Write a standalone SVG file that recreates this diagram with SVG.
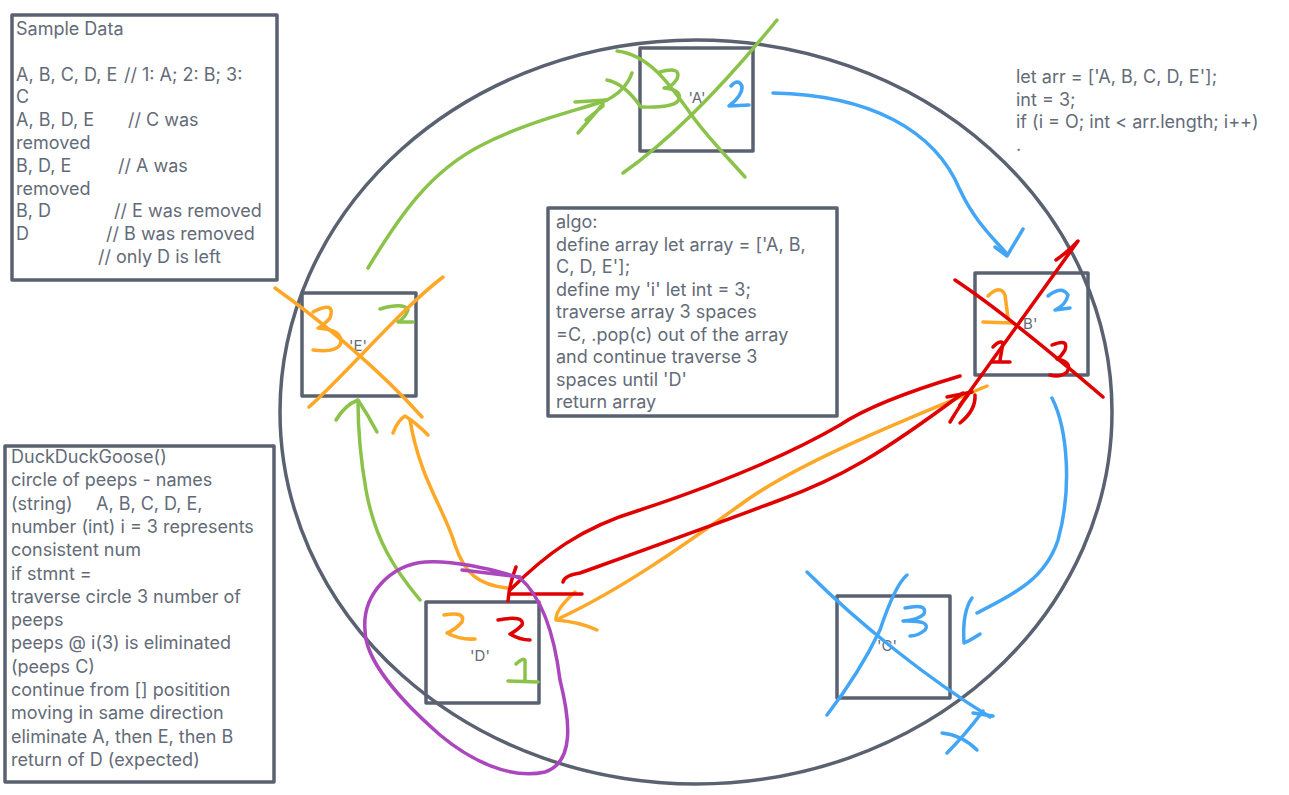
<svg xmlns="http://www.w3.org/2000/svg" width="1289" height="795" viewBox="0 0 1289 795">
<style>
.frame{fill:none;stroke:#5a6272;stroke-width:3.5;stroke-linejoin:round}
.txt{font-family:Inter,"Open Sans","Liberation Sans",sans-serif;font-size:18px;fill:#646b78}
.lbl{font-family:Inter,"Open Sans","Liberation Sans",sans-serif;font-size:15px;fill:#646b78;text-anchor:middle}
.ink{fill:none;stroke-width:3.5;stroke-linecap:round;stroke-linejoin:round}
.g{stroke:#8bc34a}.b{stroke:#42a5f5}.o{stroke:#ffa726}.r{stroke:#e00000}.p{stroke:#ab47bc}
</style>
<rect width="1289" height="795" fill="#ffffff"/>

<ellipse class="frame" cx="696" cy="412" rx="416" ry="372"/>

<g id="sample-data">
<rect class="frame" x="12" y="15" width="265" height="265"/>
<text class="txt">
<tspan x="16" y="35">Sample Data</tspan>
<tspan x="16" y="80.6">A, B, C, D, E</tspan><tspan x="124" y="80.6">// 1: A; 2: B; 3:</tspan>
<tspan x="16" y="103.4">C</tspan>
<tspan x="16" y="126.2">A, B, D, E</tspan><tspan x="128" y="126.2">// C was</tspan>
<tspan x="16" y="149">removed</tspan>
<tspan x="16" y="171.8">B, D, E</tspan><tspan x="118" y="171.8">// A was</tspan>
<tspan x="16" y="194.6">removed</tspan>
<tspan x="16" y="217.4">B, D</tspan><tspan x="114" y="217.4">// E was removed</tspan>
<tspan x="16" y="240.2">D</tspan><tspan x="106" y="240.2">// B was removed</tspan>
<tspan x="98" y="263">// only D is left</tspan>
</text>
</g>

<g id="description">
<rect class="frame" x="5" y="446" width="269" height="336"/>
<text class="txt">
<tspan x="11" y="463">DuckDuckGoose()</tspan>
<tspan x="11" y="486.3">circle of peeps - names</tspan>
<tspan x="11" y="509.6">(string)</tspan><tspan x="96" y="509.6">A, B, C, D, E,</tspan>
<tspan x="11" y="532.9">number (int) i = 3 represents</tspan>
<tspan x="11" y="556.2">consistent num</tspan>
<tspan x="11" y="579.5">if stmnt =</tspan>
<tspan x="11" y="602.8">traverse circle 3 number of</tspan>
<tspan x="11" y="626.1">peeps</tspan>
<tspan x="11" y="649.4">peeps @ i(3) is eliminated</tspan>
<tspan x="11" y="672.7">(peeps C)</tspan>
<tspan x="11" y="696">continue from [] positition</tspan>
<tspan x="11" y="719.3">moving in same direction</tspan>
<tspan x="11" y="742.6">eliminate A, then E, then B</tspan>
<tspan x="11" y="765.9">return of D (expected)</tspan>
</text>
</g>

<g id="algo">
<rect class="frame" x="548" y="208" width="289" height="208"/>
<text class="txt">
<tspan x="556" y="228">algo:</tspan>
<tspan x="556" y="250.5">define array let array = ['A, B,</tspan>
<tspan x="556" y="273">C, D, E'];</tspan>
<tspan x="556" y="295.5">define my 'i' let int = 3;</tspan>
<tspan x="556" y="318">traverse array 3 spaces</tspan>
<tspan x="556" y="340.5">=C, .pop(c) out of the array</tspan>
<tspan x="556" y="363">and continue traverse 3</tspan>
<tspan x="556" y="385.5">spaces until 'D'</tspan>
<tspan x="556" y="408">return array</tspan>
</text>
</g>

<g id="code">
<text class="txt">
<tspan x="1016" y="83">let arr = ['A, B, C, D, E'];</tspan>
<tspan x="1016" y="105.5">int = 3;</tspan>
<tspan x="1016" y="128">if (i = O; int &lt; arr.length; i++)</tspan>
<tspan x="1016" y="150.5">.</tspan>
</text>
</g>

<g id="node-A">
<rect class="frame" x="640" y="48" width="113" height="103"/>
<text class="lbl" x="697" y="103">'A'</text>
</g>
<g id="node-B">
<rect class="frame" x="975" y="273" width="113" height="102"/>
<text class="lbl" x="1028" y="329">'B'</text>
</g>
<g id="node-C">
<rect class="frame" x="837" y="596" width="113" height="102"/>
<text class="lbl" x="887" y="651">'C'</text>
</g>
<g id="node-D">
<rect class="frame" x="426" y="602" width="113" height="101"/>
<text class="lbl" x="480" y="661">'D'</text>
</g>
<g id="node-E">
<rect class="frame" x="302" y="293" width="114" height="103"/>
<text class="lbl" x="358" y="351">'E'</text>
</g>

<g id="connectors">
<!-- green -->
<path class="ink g" d="M623,173 C670,140 720,90 777,20"/>
<path class="ink g" d="M617,51 C650,55 670,85 693,117 C710,140 730,160 745,177"/>
<path class="ink g" d="M660,72 Q682,66 677,79 Q671,88 664,88 Q684,90 678,101 Q672,108 641,107"/>
<path class="ink g" d="M607,80 Q625,84 640,106"/>
<path class="ink g" d="M368,268 C400,215 430,172 480,146 C530,120 580,110 607,100 Q626,90 632,73"/>
<path class="ink g" d="M575,102 L606,100 M578,133 L603,104 M586,120 L603,106"/>
<path class="ink g" d="M380,309 Q404,302 408,310 Q405,318 398,322 L413,322"/>
<path class="ink g" d="M420,600 C395,570 375,540 366,490 C359,450 358,420 358,402"/>
<path class="ink g" d="M336,420 Q345,405 358,400 Q368,415 377,432"/>
<path class="ink g" d="M516,664 Q526,655 525,663 L525,681 M508,681 L538,682"/>
<!-- blue -->
<path class="ink b" d="M731,86 Q738,78 742,86 Q743,95 729,106 L749,105"/>
<path class="ink b" d="M773,93 C870,95 935,130 960,190 C975,222 995,240 1007,254"/>
<path class="ink b" d="M995,247 L1007,256 L1023,229"/>
<path class="ink b" d="M1048,296 Q1062,285 1068,295 Q1066,305 1055,310 L1070,308"/>
<path class="ink b" d="M1052,398 C1068,430 1072,490 1058,540 C1045,580 1012,595 977,613"/>
<path class="ink b" d="M972,598 Q962,612 964,643 Q971,640 980,634"/>
<path class="ink b" d="M807,572 C860,625 930,680 990,717"/>
<path class="ink b" d="M907,575 Q895,585 880,630 Q860,672 827,715"/>
<path class="ink b" d="M905,608 Q928,603 924,614 Q918,620 903,621 Q932,620 925,630 Q918,636 910,636"/>
<path class="ink b" d="M983,711 Q965,735 947,753 M942,733 Q962,735 977,750 M973,713 L993,716"/>
<!-- orange -->
<path class="ink o" d="M275,288 C320,320 380,370 422,417"/>
<path class="ink o" d="M443,277 C400,310 350,370 309,407"/>
<path class="ink o" d="M313,312 Q336,300 330,318 Q323,326 318,328 Q345,330 340,345 Q334,353 313,350"/>
<path class="ink o" d="M507,588 C480,585 465,575 455,545 C445,510 420,480 410,420"/>
<path class="ink o" d="M393,433 Q398,420 405,416 Q415,422 428,435"/>
<path class="ink o" d="M444,615 Q466,611 462,622 Q455,630 447,633 Q460,640 475,639"/>
<path class="ink o" d="M988,296 Q1000,284 1005,295 L1008,318 M983,322 L1012,323"/>
<path class="ink o" d="M987,386 C930,410 800,460 740,505 C680,548 620,590 560,618"/>
<path class="ink o" d="M575,592 Q555,610 556,620 Q580,622 597,630"/>
<!-- red -->
<path class="ink r" d="M955,280 C1000,310 1060,360 1103,397"/>
<path class="ink r" d="M1056,260 Q1070,250 1078,241 L960,405"/>
<path class="ink r" d="M993,347 Q1000,340 1003,343 L1000,360 M992,362 L1010,362"/>
<path class="ink r" d="M1052,345 Q1069,338 1065,350 Q1060,358 1057,359 Q1073,362 1067,372 Q1060,378 1050,375"/>
<path class="ink r" d="M960,376 C920,388 870,405 840,425 C780,460 700,490 640,510 C580,528 545,555 510,590"/>
<path class="ink r" d="M563,582 Q565,575 580,573 C630,555 700,530 780,500 C840,478 880,455 963,393"/>
<path class="ink r" d="M947,397 L972,392 M950,422 Q960,405 968,395 M960,423 Q976,410 975,395"/>
<path class="ink r" d="M516,567 Q509,585 508,601 M510,594 L582,594"/>
<path class="ink r" d="M498,620 Q525,615 522,625 Q515,632 510,634 Q520,640 530,640"/>
<!-- purple -->
<path class="ink p" d="M520,578 C545,600 555,640 560,680 C570,720 575,762 545,772 C510,780 470,760 440,735 C400,700 365,660 365,630 C362,595 390,565 425,562 C450,560 490,568 520,578 M462,570 L520,577"/>
</g>
</svg>
